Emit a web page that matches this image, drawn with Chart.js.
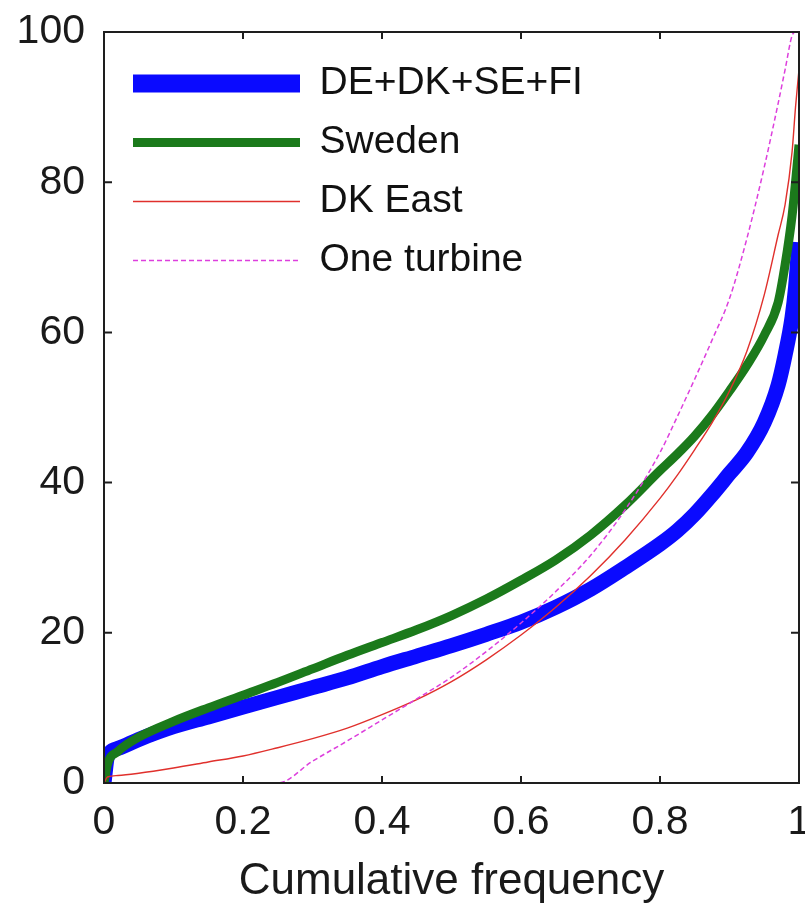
<!DOCTYPE html>
<html>
<head>
<meta charset="utf-8">
<script src="https://cdn.jsdelivr.net/npm/chart.js@4.4.1/dist/chart.umd.min.js"></script>
<style>
  body { margin: 0; background: #fff; }
  canvas { display: block; }
</style>
</head>
<body>
<canvas id="durationChart" width="805" height="906"></canvas>
<script>
// cumulative frequency (x) shared by all curves
const freq = [0, 0.005, 0.02, 0.05, 0.1, 0.15, 0.2, 0.25, 0.3, 0.35, 0.4, 0.45, 0.5, 0.55, 0.6,
  0.65, 0.7, 0.75, 0.8, 0.825, 0.85, 0.875, 0.9, 0.925, 0.95, 0.97, 0.98, 0.99, 0.995, 1];

// values in %
const allRegion = [0, 3.5, 4.6, 5.8, 7.5, 8.8, 10.1, 11.4, 12.7, 14.0, 15.5, 16.9, 18.3, 19.8, 21.4,
  23.4, 25.8, 28.7, 31.8, 33.6, 35.8, 38.4, 41.2, 44, 48, 53, 57, 62, 66, 72];
const sweden = [0, 2.5, 4.2, 6.1, 8.2, 10.0, 11.7, 13.4, 15.2, 17.0, 18.7, 20.4, 22.3, 24.5, 27.0,
  29.7, 33.0, 37.0, 41.6, 43.8, 46.2, 49.0, 52.2, 55.6, 59.6, 64, 69, 75.5, 80, 85];
const dkEast = [0, 0.8, 1.0, 1.3, 2.0, 2.8, 3.6, 4.7, 5.9, 7.3, 9.1, 11.1, 13.5, 16.4, 19.7,
  23.4, 27.6, 32.4, 37.9, 41.0, 44.4, 48.0, 52.2, 57.5, 65, 73, 77, 84, 90, 95];
const oneTurbine = [0, 0, 0, 0, 0, 0, 0, 0, 2.9, 5.6, 8.4, 11.2, 14.1, 17.5, 21.3,
  25.5, 30.3, 36.4, 44.0, 48.8, 53.8, 59.0, 64.5, 72.5, 82, 90.5, 95, 99.5, 100, 100];

const xTicks = [0, 0.2, 0.4, 0.6, 0.8, 1];
const yTicks = [0, 20, 40, 60, 80, 100];

const FONT = "'Liberation Sans', Arial, sans-serif";

function points(values) {
  return values.map((v, i) => ({ x: freq[i], y: v }));
}

// box around the plot with short inward ticks on all four sides
const framePlugin = {
  id: "frame",
  afterDatasetsDraw(chart) {
    const { ctx, chartArea: a, scales } = chart;
    ctx.save();
    ctx.strokeStyle = "#1e1e1e";
    ctx.lineWidth = 2;
    ctx.strokeRect(a.left, a.top, a.right - a.left, a.bottom - a.top);
    ctx.beginPath();
    xTicks.forEach(v => {
      const px = scales.x.getPixelForValue(v);
      ctx.moveTo(px, a.bottom); ctx.lineTo(px, a.bottom - 7);
      ctx.moveTo(px, a.top); ctx.lineTo(px, a.top + 7);
    });
    yTicks.forEach(v => {
      const py = scales.y.getPixelForValue(v);
      ctx.moveTo(a.left, py); ctx.lineTo(a.left + 8, py);
      ctx.moveTo(a.right, py); ctx.lineTo(a.right - 8, py);
    });
    ctx.stroke();
    ctx.restore();
  }
};

// put the legend in the upper left corner of the plot
const legendPlace = {
  id: "legendPlace",
  afterLayout(chart) {
    const lg = chart.legend, a = chart.chartArea;
    if (!lg) return;
    lg.left = a.left + 9;
    lg.right = a.right;
    lg.top = a.top + 12;
    lg.bottom = a.bottom;
  }
};

new Chart(document.getElementById("durationChart"), {
  type: "line",
  data: {
    datasets: [
      {
        label: "DE+DK+SE+FI",
        data: points(allRegion),
        borderColor: "#0a0aff",
        backgroundColor: "#0a0aff",
        borderWidth: 15,
        borderJoinStyle: "round",
        clip: 0,
        order: 4
      },
      {
        label: "Sweden",
        data: points(sweden),
        borderColor: "#1b7a1b",
        backgroundColor: "#1b7a1b",
        borderWidth: 9,
        borderJoinStyle: "round",
        clip: 0,
        order: 3
      },
      {
        label: "DK East",
        data: points(dkEast),
        borderColor: "#e0302c",
        backgroundColor: "#e0302c",
        borderWidth: 1.4,
        order: 2
      },
      {
        label: "One turbine",
        data: points(oneTurbine),
        borderColor: "#dd3fdd",
        backgroundColor: "#dd3fdd",
        borderWidth: 1.5,
        borderDash: [5, 3],
        order: 1
      }
    ]
  },
  options: {
    responsive: false,
    devicePixelRatio: 1,
    animation: false,
    elements: { point: { radius: 0 }, line: { cubicInterpolationMode: "monotone" } },
    layout: { padding: { top: 32, right: 6, left: 0, bottom: 0 } },
    plugins: {
      tooltip: { enabled: false },
      legend: {
        position: "chartArea",
        align: "start",
        labels: {
          usePointStyle: true,
          pointStyle: "line",
          pointStyleWidth: 167,
          padding: 20,
          color: "#111",
          font: { family: FONT, size: 39 },
          generateLabels: chart => chart.data.datasets.map((ds, i) => ({
            text: ds.label,
            fillStyle: ds.borderColor,
            strokeStyle: ds.borderColor,
            lineWidth: i === 0 ? 18 : ds.borderWidth,
            lineDash: ds.borderDash || [],
            lineCap: "butt",
            pointStyle: "line",
            fontColor: "#111",
            hidden: false,
            datasetIndex: i
          }))
        }
      }
    },
    scales: {
      x: {
        type: "linear",
        min: 0,
        max: 1,
        afterBuildTicks: s => { s.ticks = xTicks.map(v => ({ value: v })); },
        afterFit: s => { s.height = 123; s.paddingLeft = 0; s.paddingRight = 0; },
        grid: { display: false, drawTicks: false },
        border: { display: false },
        ticks: {
          padding: 15,
          color: "#1a1a1a",
          font: { family: FONT, size: 41 },
          maxRotation: 0,
          callback: v => String(v)
        },
        title: {
          display: true,
          text: "Cumulative frequency",
          color: "#1a1a1a",
          font: { family: FONT, size: 44, lineHeight: 1.1 },
          padding: { top: 0, bottom: 0 }
        }
      },
      y: {
        min: 0,
        max: 100,
        afterBuildTicks: s => { s.ticks = yTicks.map(v => ({ value: v })); },
        afterFit: s => { s.width = 104; s.paddingTop = 0; s.paddingBottom = 0; },
        grid: { display: false, drawTicks: false },
        border: { display: false },
        ticks: {
          padding: 19,
          color: "#1a1a1a",
          font: { family: FONT, size: 41 }
        }
      }
    }
  },
  plugins: [framePlugin, legendPlace]
});
</script>
</body>
</html>
